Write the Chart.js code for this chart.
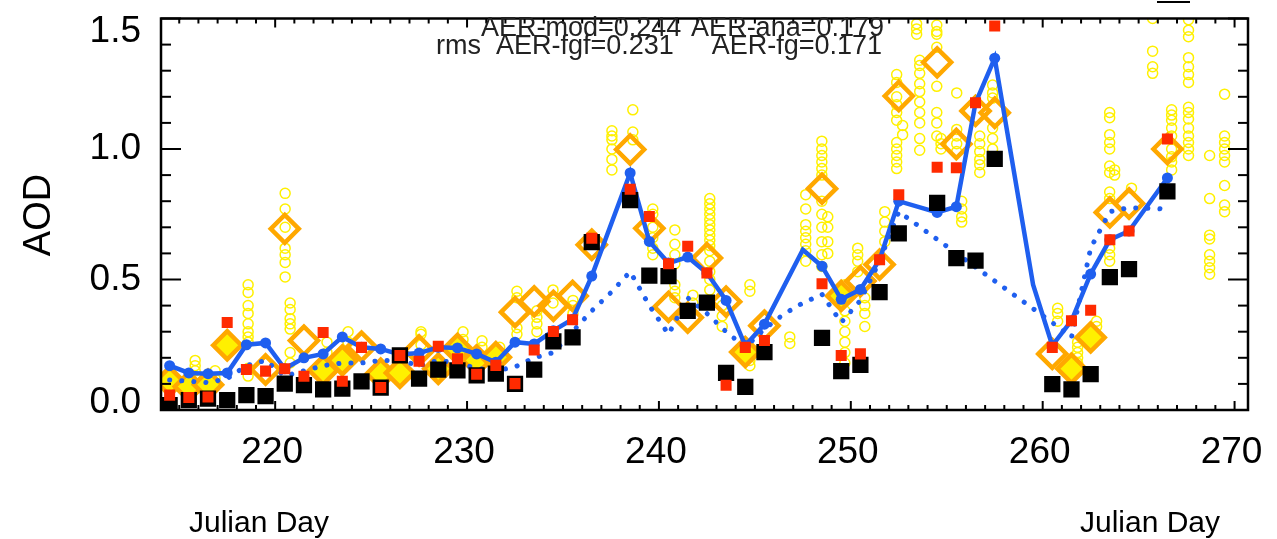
<!DOCTYPE html>
<html>
<head>
<meta charset="utf-8">
<script src="https://cdn.jsdelivr.net/npm/chart.js@4.4.1/dist/chart.umd.min.js"></script>
<style>
  html, body { margin: 0; padding: 0; background: #fff; }
  #wrap { width: 1277px; height: 539px; }
</style>
</head>
<body>
<div id="wrap"><canvas id="aod" width="1277" height="539"></canvas></div>
<script>
'use strict';

// Julian days (values plotted at midday)
const days = [214, 215, 216, 217, 218, 219, 220, 221, 222, 223, 224, 225, 226, 227, 228, 229, 230,
    231, 232, 233, 234, 235, 236, 237, 238, 239, 240, 241, 242, 243, 244, 245, 246, 247, 248, 249,
    250, 251, 252, 253, 254, 255, 256, 257, 258, 259, 260, 261, 262, 263, 264, 265, 266];

const aerMod = [0.17, 0.142, 0.139, 0.142, 0.25, 0.257, 0.158, 0.20, 0.215, 0.28, 0.24, 0.234, 0.213,
    0.218, 0.24, 0.238, 0.215, 0.183, 0.26, 0.253, 0.304, 0.348, 0.513, null, 0.908, 0.646, 0.563,
    0.586, 0.525, 0.42, 0.247, 0.329, null, 0.614, 0.551, 0.424, 0.462, 0.576, 0.80, null, 0.757,
    0.779, 1.177, 1.348, null, 0.48, 0.247, 0.342, 0.521, 0.652, 0.686, null, 0.889];
// model days drawn without a marker
const aerModUnmarked = [247, 259];

const aerFree = [0.115, 0.11, 0.105, 0.12, 0.17, 0.19, 0.13, 0.15, 0.17, 0.18, 0.18, 0.19, 0.19,
    0.17, 0.19, 0.18, 0.16, 0.15, 0.165, 0.2, 0.22, 0.30, 0.38, 0.45, 0.53, 0.40, 0.29, 0.43, 0.37,
    0.30, 0.24, 0.31, 0.367, 0.41, 0.443, 0.335, 0.42, 0.57, 0.76, null, null, null, null, null,
    null, null, 0.335, 0.278, 0.62, 0.76, 0.775, null, 0.77];

const aerAna = [0.057, 0.048, 0.05, 0.335, 0.155, 0.149, 0.158, 0.129, 0.297, 0.11, 0.24, 0.086,
    0.209, 0.187, 0.244, 0.196, 0.137, 0.171, 0.101, 0.23, 0.301, 0.346, 0.658, null, 0.846, 0.741,
    0.56, 0.627, 0.525, 0.095, 0.24, 0.266, null, null, 0.484, 0.209, 0.215, 0.576, 0.825, null,
    0.93, 0.928, 1.177, 1.471, null, null, 0.24, 0.342, 0.382, 0.652, 0.686, null, 1.038];

const aerFg = [0.019, 0.038, 0.044, 0.038, 0.057, 0.053, 0.101, 0.095, 0.079, 0.082, 0.11, 0.086,
    0.209, 0.12, 0.155, 0.152, 0.133, 0.139, 0.1, 0.155, 0.263, 0.278, 0.643, null, 0.804, 0.515,
    0.513, 0.38, 0.411, 0.142, 0.089, 0.222, null, null, 0.276, 0.149, 0.173, 0.452, 0.677, null,
    0.794, 0.582, 0.572, 0.962, null, null, 0.099, 0.079, 0.137, 0.509, 0.54, null, 0.838];

const obsMean = [0.11, 0.09, 0.097, 0.248, null, 0.155, 0.694, 0.266, 0.152, 0.19, 0.243, 0.139,
    0.142, 0.228, 0.158, 0.234, 0.19, 0.202, 0.375, 0.416, 0.399, 0.437, 0.633, null, 0.998, 0.696,
    0.395, 0.354, 0.582, 0.415, 0.222, 0.323, null, null, 0.848, 0.437, 0.494, 0.557, 1.203, null,
    1.332, 1.019, 1.146, 1.139, null, null, 0.215, 0.158, 0.278, 0.757, 0.791, null, 1.0];
// days whose daily-mean diamond is filled
const obsMeanFilled = [214, 215, 216, 217, 222, 223, 225, 226, 228, 229, 230, 231, 244, 249, 261, 262];

// single observations, grouped by observation time
const obsTime = [214.5, 215.83, 216.87, 218.59, 220.52, 220.78, 222.7, 223.8, 227.6, 229.79, 230.78,
    231.7, 232.6, 233.64, 234.48, 235.52, 237.55, 238.64, 239.68, 240.83, 241.77, 242.65, 243.3,
    244.74, 246.82, 247.65, 248.49, 248.8, 249.69, 250.36, 250.73, 251.77, 252.39, 252.7, 253.43,
    253.59, 254.48, 254.7, 255.52, 255.78, 256.72, 257.39, 260.78, 261.82, 262.81, 263.49, 263.75,
    264.63, 265.73, 266.72, 267.6, 268.7, 269.48];
const obsAOD = [
    [0.13, 0.10], [0.19, 0.17, 0.15], [0.15, 0.12],
    [0.48, 0.45, 0.40, 0.37, 0.33, 0.30, 0.28, 0.26, 0.16, 0.13],
    [0.83, 0.77, 0.70, 0.62, 0.595, 0.565, 0.51],
    [0.41, 0.385, 0.35, 0.33, 0.31, 0.22, 0.18],
    [0.26, 0.22], [0.30, 0.26], [0.30, 0.29, 0.25], [0.30, 0.27], [0.265, 0.24], [0.24, 0.2],
    [0.455, 0.43, 0.315, 0.29], [0.38, 0.355, 0.33, 0.30], [0.46, 0.41], [0.42, 0.40, 0.37],
    [1.07, 1.05, 1.035, 1.0, 0.96, 0.92], [1.15, 1.065, 1.035],
    [0.77, 0.75, 0.70, 0.66, 0.62, 0.595], [0.69, 0.635, 0.595, 0.56, 0.48, 0.455, 0.43],
    [0.44, 0.41],
    [0.81, 0.79, 0.77, 0.75, 0.73, 0.71, 0.69, 0.67, 0.65, 0.63, 0.61, 0.57, 0.53, 0.50, 0.46],
    [0.40, 0.36, 0.32], [0.48, 0.455, 0.19, 0.17], [0.28, 0.255],
    [0.825, 0.77, 0.71, 0.685, 0.66, 0.635, 0.61, 0.57],
    [1.03, 1.0, 0.975, 0.95, 0.925, 0.9, 0.80, 0.75, 0.70, 0.645, 0.595, 0.55],
    [0.74, 0.70, 0.645, 0.60],
    [0.48, 0.45, 0.42, 0.38, 0.34, 0.30, 0.26, 0.22, 0.18],
    [0.62, 0.595, 0.57, 0.53], [0.43, 0.40, 0.37, 0.32], [0.76, 0.72, 0.685, 0.645],
    [1.285, 1.255, 1.2, 1.17, 1.14, 1.11, 1.025, 1.0, 0.975, 0.95, 0.925], [1.09, 1.055],
    [1.48, 1.46, 1.44], [1.34, 1.32, 1.29, 1.25, 1.22, 1.18, 1.14, 1.10, 1.04, 0.995],
    [1.475, 1.45, 1.44, 1.39, 1.24, 1.14, 1.10, 1.05], [1.04, 1.02, 1.0],
    [1.215, 1.075, 1.05, 1.02, 0.99], [0.80, 0.77, 0.74, 0.72],
    [1.05, 1.02, 0.99, 0.96, 0.94, 0.91], [1.245, 1.215, 1.195, 1.08, 1.04, 1.0],
    [0.39, 0.37, 0.34], [0.26, 0.24, 0.22, 0.20, 0.18], [0.34, 0.32],
    [1.14, 1.12, 1.055, 1.025, 1.0, 0.935, 0.91, 0.835, 0.81, 0.62, 0.595, 0.57],
    [0.92, 0.90], [0.85], [1.5, 1.375, 1.315, 1.29],
    [1.15, 1.13, 1.11, 1.08, 1.05, 1.0, 0.97, 0.95, 0.92],
    [1.495, 1.455, 1.43, 1.35, 1.315, 1.285, 1.255, 1.16, 1.14, 1.115, 1.08, 1.05, 1.025, 1.0, 0.975],
    [0.975, 0.81, 0.67, 0.655, 0.595, 0.57, 0.545, 0.52],
    [1.21, 1.05, 1.025, 1.0, 0.975, 0.95, 0.86, 0.785, 0.76]
];

const xTicks = [220, 230, 240, 250, 260, 270];
const xTickLabels = ['220', '230', '240', '250', '260', '270'];
const yTicks = [0, 0.5, 1.0, 1.5];
const yTickLabels = ['0.0', '0.5', '1.0', '1.5'];
const statsLine1 = ['AER-mod=0.244', 'AER-ana=0.179'];
const statsLine2 = ['rms', 'AER-fgf=0.231', 'AER-fg=0.171'];

const MIDDAY = 0.5;
const FONT = '"Liberation Sans", Arial, Helvetica, sans-serif';
const BLUE = '#1f5fef';
const YELLOW = '#fff000';

const daily = (values) => days.map((d, i) => ({'x': d + MIDDAY, 'y': values[i]})).filter(p => p.y !== null);
const dayOf = (ctx) => ctx.raw ? ctx.raw.x - MIDDAY : null;
const observations = [];
obsTime.forEach((t, i) => obsAOD[i].forEach(v => observations.push({'x': t, 'y': v})));

const frame = {
    'id': 'frame',
    afterDatasetsDraw(chart) {
        const ctx = chart.ctx;
        const a = chart.chartArea;
        const x = chart.scales.x;
        const y = chart.scales.y;
        const seg = (x0, y0, x1, y1) => {
            ctx.beginPath();
            ctx.moveTo(x0, y0);
            ctx.lineTo(x1, y1);
            ctx.stroke();
        };
        ctx.save();
        ctx.strokeStyle = '#000';
        ctx.lineWidth = 2.5;
        ctx.strokeRect(a.left, a.top, a.width, a.height);
        ctx.lineWidth = 2;
        // day ticks on bottom and top
        for (let d = Math.ceil(x.min); d <= x.max; d++) {
            const px = x.getPixelForValue(d);
            const len = d % 10 === 0 ? 9 : 5;
            seg(px, a.bottom, px, a.bottom - len);
            seg(px, a.top, px, a.top + len);
        }
        // AOD ticks on left and right
        for (let k = 0; k <= 15; k++) {
            const py = y.getPixelForValue(k / 10);
            const len = k % 5 === 0 ? 20 : 10;
            seg(a.left, py, a.left + len, py);
            seg(a.right, py, a.right - len, py);
        }
        ctx.fillStyle = '#000';
        ctx.font = '37px ' + FONT;
        ctx.textAlign = 'center';
        ctx.textBaseline = 'alphabetic';
        xTicks.forEach((v, i) => ctx.fillText(xTickLabels[i], x.getPixelForValue(v) - 3, 463));
        ctx.textAlign = 'right';
        ctx.textBaseline = 'middle';
        yTicks.forEach((v, i) => {
            const py = Math.min(Math.max(y.getPixelForValue(v), a.top + 13), a.bottom - 7);
            ctx.fillText(yTickLabels[i], 141, py);
        });
        // axis titles
        ctx.font = '38px ' + FONT;
        ctx.textAlign = 'center';
        ctx.save();
        ctx.translate(40, 215);
        ctx.rotate(-Math.PI / 2);
        ctx.fillText('AOD', 0, 0);
        ctx.restore();
        ctx.font = '30px ' + FONT;
        ctx.textBaseline = 'alphabetic';
        ctx.fillText('Julian Day', 259, 532);
        ctx.fillText('Julian Day', 1150, 532);
        // statistics
        ctx.font = '27px ' + FONT;
        ctx.fillStyle = '#222';
        ctx.textAlign = 'left';
        ctx.fillText(statsLine1[0], 481, 36);
        ctx.fillText(statsLine2[0], 436, 54);
        ctx.fillText(statsLine2[1], 496, 54);
        ctx.textAlign = 'right';
        ctx.fillText(statsLine1[1], 884, 36);
        ctx.fillText(statsLine2[2], 882, 54);
        // legend stub cut at the top edge
        ctx.lineWidth = 2;
        seg(1157, 2, 1190, 2);
        ctx.restore();
    }
};

const chart = new Chart(document.getElementById('aod').getContext('2d'), {
    'type': 'scatter',
    'data': {
        'datasets': [
            {
                'label': 'AER-ana',
                'data': daily(aerAna),
                'pointStyle': 'rect',
                'pointRadius': 7.8,
                'borderWidth': 0,
                'backgroundColor': '#ff2a00',
                'order': 0
            },
            {
                'label': 'AER-fg',
                'data': daily(aerFg),
                'pointStyle': 'rect',
                'pointRadius': 11.5,
                'borderWidth': 0,
                'backgroundColor': '#000000',
                'order': 1
            },
            {
                'label': 'AER-mod',
                'data': daily(aerMod),
                'showLine': true,
                'borderColor': BLUE,
                'backgroundColor': BLUE,
                'borderWidth': 4.5,
                'pointRadius': (ctx) => aerModUnmarked.includes(dayOf(ctx)) ? 0 : 5.5,
                'pointBorderWidth': 0,
                'order': 2
            },
            {
                'label': 'AER-fgf',
                'data': daily(aerFree),
                'showLine': true,
                'borderColor': BLUE,
                'borderWidth': 5,
                'borderDash': [0.1, 12],
                'borderCapStyle': 'round',
                'pointRadius': 0,
                'order': 3
            },
            {
                'label': 'Obs mean',
                'data': daily(obsMean),
                'pointStyle': 'rectRot',
                'pointRadius': 14,
                'borderWidth': 4.5,
                'borderColor': '#ffa800',
                'backgroundColor': (ctx) => obsMeanFilled.includes(dayOf(ctx)) ? YELLOW : 'rgba(0,0,0,0)',
                'order': 4
            },
            {
                'label': 'Obs',
                'data': observations,
                'pointStyle': 'circle',
                'pointRadius': 5,
                'borderWidth': 1.5,
                'borderColor': YELLOW,
                'backgroundColor': 'rgba(0,0,0,0)',
                'order': 5
            }
        ]
    },
    'options': {
        'responsive': false,
        'animation': false,
        'layout': {'padding': {'left': 161, 'right': 29, 'top': 15, 'bottom': 129}},
        'scales': {
            'x': {'type': 'linear', 'min': 214.05, 'max': 270.7, 'display': false},
            'y': {'type': 'linear', 'min': 0, 'max': 1.5, 'display': false}
        },
        'plugins': {
            'legend': {'display': false},
            'tooltip': {'enabled': false}
        }
    },
    'plugins': [frame]
});
</script>
</body>
</html>
